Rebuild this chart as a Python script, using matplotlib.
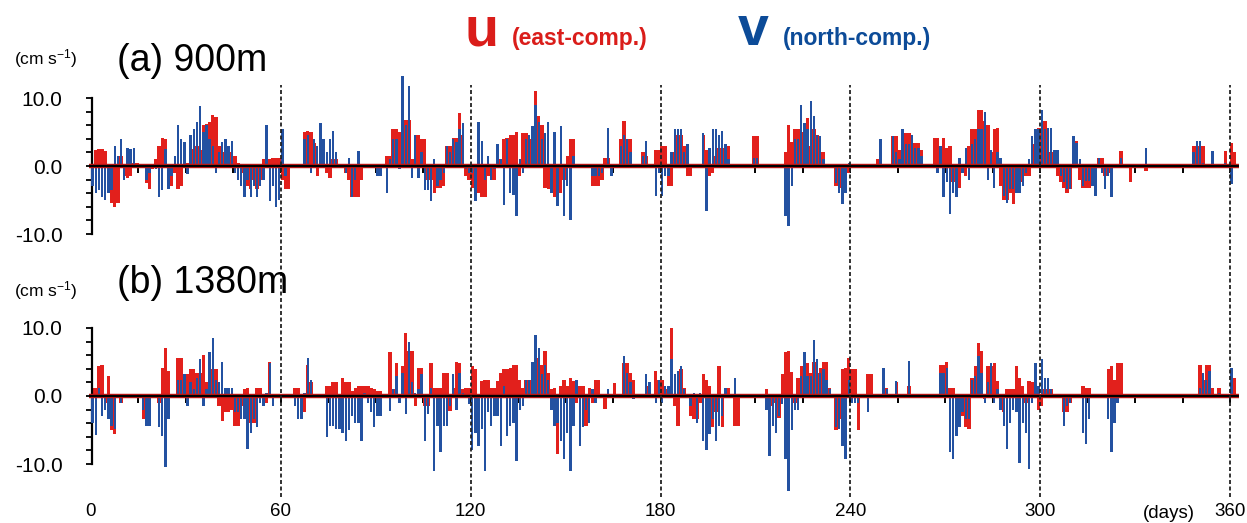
import numpy as np
import matplotlib
matplotlib.use("Agg")
import matplotlib.pyplot as plt

nan = float("nan")

# ---------------- data (cm/s), one value per day, day 0 .. 361 ----------------
u_900 = [
 -2, 2.4, 2.5, 2.5, 2.2, -2, -5.5, -6, -5.5, 1.5,
 -1.5, -1.7, -1.5, 0.5, 0.5, nan, nan, -2.5, -3.4, -0.5,
 1, 3, 4.1, 4, -2, -3, -1, -3.4, -3, 1,
 0.5, 1.5, 2.5, 3, 2.4, 6, 6.2, 6.5, 7.5, 7.2,
 3, 2, 2.5, 2, 2, 1.5, 0.5, -1, -1.5, -3,
 -3.4, -2, -3.4, -2, 1, 2.5, 1, 1.2, 1.2, 1.2,
 -2, -3.4, -3.4, nan, nan, nan, nan, 5, 5.1, 5,
 3.4, -1.5, 3, 2, -1, -1.7, 1, 1, nan, nan,
 -1, -2, -4.6, -4.6, -4.6, -2, nan, nan, nan, nan,
 0, 0, nan, 1.5, 1.5, 5.5, 5.5, 5, 6, 6.8,
 6.8, 1, 4.6, 4.6, 3.9, 3.9, -2, -2, -4, -3.2,
 -3.2, -2.9, 2.9, 2.9, 4.1, 4.1, 7.8, 4.5, -1.5, -2,
 -3.2, -4, -4, -4.5, -4.5, -1.5, -2, -2, 1, 1,
 3.9, 4.1, 4.6, 4.6, 5, -1.5, 4.9, 4.9, 3.9, 4.6,
 11, 7.3, 6, -3.2, -3.4, -3.5, -4.5, -4.4, -4, -2,
 1.5, 3.9, 3.9, nan, nan, nan, nan, nan, -3, -3,
 -3, -2, 1.2, 1.2, 0, nan, nan, 4, 6.6, 3.9,
 3.9, nan, nan, nan, 2, 1.5, nan, nan, 2.4, 2.4,
 3, 3, -2.9, -2.9, 2, 4.5, 4.5, 3, -1.5, -1.5,
 nan, nan, nan, 4.6, 2.4, -1.5, -1, 1.5, 2.7, 2.7,
 3, 3, nan, nan, nan, nan, nan, nan, nan, 4.4,
 4.4, nan, nan, nan, nan, nan, nan, nan, nan, 2,
 6, 3.5, 5.4, 5.4, 5, 2.4, 7, 3, 5.4, 4.5,
 2, 2, nan, nan, nan, -3, -3.2, -3.2, -1, -1,
 nan, nan, nan, nan, nan, nan, nan, nan, 1, 1,
 nan, nan, nan, 4.4, 4.4, 2.4, 3.9, 4.9, 4.9, 3.4,
 3.4, 3.4, 2.4, nan, nan, nan, 4.1, 4.1, 2.4, 4.1,
 2.7, 3, -2.4, -3.4, -3.2, -1, -1.5, 3, 5.4, 5.4,
 8.3, 8.3, 6.6, 6, 2, 5.4, 5.6, -3, -5, -5,
 -3.9, -5.6, -3, -3, -2.4, -1.5, -1.5, 3.2, 4.9, 5.6,
 5.6, 6.6, 2, 2, 2.4, -1.5, -2.4, -3.2, -3.9, -3.4,
 3.7, 3.7, -2, -3.2, -3.2, -3.2, -2.4, -2.4, 1.2, 1.2,
 -1.5, -1, -1, nan, nan, 2.2, nan, nan, -2.4, nan,
 nan, nan, nan, -0.7, nan, nan, nan, nan, nan, nan,
 nan, nan, nan, nan, nan, nan, nan, nan, 3, 3,
 3, 3, nan, nan, 1, nan, nan, nan, 2.2, nan,
 3.4, 2,
]

v_900 = [
 -3, -4, -3.5, -4.5, -5, -4, -3.5, 3, 1.5, 3.9,
 -2, 2.7, 2.5, 2.7, -0.3, nan, nan, -2, -1, 0,
 -0.5, -4.6, -3.5, 2.5, -3.4, -1.5, 1.5, 6.1, 4, 3.5,
 -1.2, 4.5, 5.5, 6.5, 8.8, 5, 6, 4, 3, -1,
 2, 3.5, 3.9, 3, 3.7, -1, -2, -3, -4.5, -2,
 -4.5, -3, -4.6, -3, -2, 6.1, -5.1, -3, -6.1, -5,
 5.4, -1.5, 0, nan, nan, nan, nan, 4, 4.5, -1,
 4, 3, 6.3, 3.9, 2, 3.9, 5.1, 2, nan, nan,
 -1, 1.2, -4.6, -2, 2.2, 0, nan, nan, nan, nan,
 -1.5, -1.5, nan, -3.9, 1, 4, 3.9, -0.5, 13.2, 6,
 11.7, -1.8, 4.6, -1.8, 2, -3.6, -3.6, -5.2, 1, -2.9,
 -2, -1, 2.9, 2, 3.9, 3.5, 5.4, 6.3, -0.5, -1,
 -1, -5.1, 6.5, 3.7, -2, 1.5, -2, -0.5, 3.2, 1,
 -5.7, 4, -3.9, -4.2, -7.4, 1, -1, 3.9, 4.6, 5.9,
 9, 6.5, 3.9, 4.9, 6.5, -4, 5, -5.9, 5.9, -7.3,
 -3, -8, 1.5, nan, nan, nan, nan, nan, -1.5, -1.5,
 -1.5, -1, 0, 5.6, -1.5, nan, nan, 3, 4.5, 3.9,
 2, nan, nan, nan, 1.5, 3.7, nan, nan, -4.4, -1,
 -4.4, -1.5, -1.5, 2, 5.4, 5.4, 5.4, 2, 3.2, 0,
 nan, nan, nan, 4.9, -6.6, 2.7, 5.4, 5.4, 4.5, 5.1,
 3.2, 1, nan, nan, nan, nan, nan, nan, nan, 1.2,
 1.2, nan, nan, nan, nan, nan, nan, nan, nan, -7.3,
 -8.8, -2.9, 3.9, 3.9, 9, 6.3, 5.4, 9.5, 7.3, 4.6,
 4.4, 1, nan, nan, nan, -2.5, -4, -5.6, -4, 0.5,
 nan, nan, nan, nan, nan, nan, nan, nan, 0, 3.9,
 nan, nan, nan, 4.4, 2, 1, 5.4, 3.2, 3.2, 4.6,
 2.7, 2.7, 1.5, nan, nan, nan, 0, -1, 2.9, -4.6,
 -2.4, -7, -3.9, -4.6, 1.2, -1, 2.7, -2, 3.2, 4,
 5.4, 5.4, 8, -2, 2.4, -3.2, 2, 1.2, -4.4, -5.4,
 -3.4, -3.4, -3.9, -3.9, -3, -1, 1, 4.4, 5.4, 5.4,
 8.3, 5.4, 5.6, 5.6, 2.4, 2.4, -1.5, -2.4, -3.4, -3.4,
 4.4, 3.4, 1, -2.9, -2.2, -2.2, -3, -4.4, 1.2, -1,
 -3.4, -1.5, -4.6, nan, nan, 1.2, nan, nan, 0, nan,
 nan, nan, nan, 2.7, nan, nan, nan, nan, nan, nan,
 nan, nan, nan, nan, nan, nan, nan, nan, 2, 3.7,
 3.7, 0.5, nan, nan, 2.2, nan, nan, nan, 0.5, nan,
 -2.7, 0,
]

u_1380 = [
 1.2, 1.2, 4.4, 4.6, -1, 2.9, -5, -5.6, nan, -1,
 nan, nan, nan, nan, nan, nan, -3.4, -2, -1, nan,
 nan, -1, 4.1, 7, 3.7, nan, nan, 5.6, 5.6, 3.2,
 3.2, 4, 4, 3.4, 3.4, 6, 2, 6, 4, 4,
 -1.5, -3.7, -2.4, -2.4, -2, -4.4, -4.4, -1.5, 1, 1.2,
 -3.9, -3.9, 1.2, 1.2, -1.5, -1, 5, 0, nan, nan,
 nan, nan, nan, nan, 1.2, 1.2, 0, -2.4, 4.6, 2,
 nan, nan, nan, nan, 1.5, 1.5, 2, 2, -3.9, 2.7,
 2, 2, 0.8, 1.2, 1.5, 1.5, 1.5, 1.5, 1.2, 1,
 0.8, 0.8, nan, nan, 6.4, 1, 4.9, -1, 4.4, 9.3,
 6.6, 6.6, -1.5, 4.1, 4.1, -1.5, -1.5, 4.9, 1.2, 1.2,
 1.2, 3.4, 3.4, -2.2, 1.2, 5, 4.9, 1, 1.2, 1.2,
 4.4, 4, -5, 2.2, 2.4, 2.4, 1.2, 1.2, 2.2, 3.4,
 3.9, 4, 4.1, 4.6, 4.6, 2.4, 1.2, 2.4, 2.4, 4.4,
 6.1, 5.6, 4.6, 6.6, 3.4, 1, 1.2, -8.5, 1.5, 2.4,
 1.5, 2.7, 2.2, -1, 1.5, 1.5, -4.4, 1.2, -1, 2.4,
 2.4, nan, -1.9, 0, nan, 1.9, nan, nan, 4.9, 4.9,
 3.4, 2.4, nan, nan, nan, 1.5, 1.2, nan, 3.7, 2.4,
 2.4, 1, 1, 10, -1.5, -4.4, 3.9, 1.2, nan, -3,
 -3.4, -3.4, -1, 3.2, 2.4, 1.5, -4.6, -2.4, 4.4, -4.6,
 1.2, 1.2, nan, -4.4, -4.4, nan, nan, nan, nan, nan,
 nan, nan, nan, 1, -2, -1.5, -1, -3.2, 3.2, 6.5,
 6.6, 3.5, -1, 2.7, 4.4, 4.9, 4.9, 3.4, 5, 3.4,
 4.1, 5, 5, 1.2, nan, -5, -3.4, 4, 4.1, 5.6,
 4, 4, -5, nan, nan, 3.2, 3.2, nan, nan, nan,
 1.2, 1.2, nan, nan, 2, nan, nan, nan, 1.5, nan,
 nan, nan, nan, nan, nan, nan, nan, nan, 4.6, 4.6,
 5, 1.2, 1.2, -3, -1, -3, -4.6, -4.9, 2.7, 4.4,
 7.8, 6.6, -0.5, 4.4, 4.4, 4.9, 2.2, -1.5, -2.4, 1,
 1, 1, 4.4, 2.7, 1.5, -1, 2.2, 2, 2.2, -2,
 -1.5, 1, 1, 1, nan, nan, nan, -2.4, -2.4, -1,
 nan, nan, nan, 1.5, 1.2, 1.2, nan, nan, nan, nan,
 nan, 3.9, 4.4, 2.4, 4.9, 4.9, nan, nan, nan, nan,
 nan, nan, nan, nan, nan, nan, nan, nan, nan, nan,
 nan, nan, nan, nan, nan, nan, nan, nan, nan, nan,
 4.6, 2.4, 4.6, 4.6, 1.2, nan, 1.2, nan, nan, nan,
 3.9, 2.7,
]

v_1380 = [
 -3.9, -5.7, 1.2, -3, -2, -3.4, -4.4, -4.9, nan, -1,
 nan, nan, nan, nan, nan, nan, -2, -4.4, -4.4, nan,
 nan, -4.6, -5.9, -10.5, -3.4, nan, nan, 2.4, 2.4, 3.2,
 -1.5, 2, 1, 2.7, 5.4, -1.5, 1, 6.5, 8.6, 2.4,
 2, 5, 1.2, 1.2, 1.2, -2.4, -2.4, -3.4, -3.4, -7.8,
 -5.4, -3.4, -4.6, -1, -1.5, 0.5, 4.9, -1.5, nan, nan,
 nan, nan, nan, nan, -1.5, -3.4, -3.4, 0.5, 5.6, 2.4,
 nan, nan, nan, nan, -6, -4.4, -4.4, -4.9, -4.9, -5.4,
 -6.6, -5, -2.9, -3.9, -3.9, -6.6, 0.5, -1, -2.4, -4.6,
 -2.9, -2.9, nan, nan, -2.2, 1, 2.9, -1, 3.4, -2.7,
 8, 2, 0.5, 1, 3.2, -6.6, -2.7, 1.2, -11, -4.4,
 -8.3, -4.4, -4.4, -1.5, 3.2, -2, 3.4, 0.5, 0, -1.2,
 -8, -5.4, -7.3, -4.9, -11, -2.4, -4.4, -2.9, -2.9, -7.3,
 1.5, -5.9, -4.4, -4, -9.5, -2, -1.5, 2.4, 2.4, 5,
 9, 7, 3.2, 4.5, 2.4, -2, -4.4, -3.9, -6.6, -9.3,
 -5.4, -11, -4.4, 2.4, -7.3, -4.6, -2, -3.9, 1, -1,
 0, nan, 0, 1, nan, 0, nan, nan, 5.9, 3.4,
 2, -0.5, nan, nan, nan, 3.2, 2, nan, -1, 2.4,
 -1, 1.5, 1.5, 5.4, 3.2, 3.7, 4.4, 1, nan, -1.5,
 0.5, -3.9, 0.5, -6.6, -8, -5.6, -3.4, -6.6, -4.4, -3,
 1.2, 0, nan, 2.7, 0, nan, nan, nan, nan, nan,
 nan, nan, nan, -2, -8.8, -4.4, -5.4, -3, -1.2, -9.3,
 -14, -5, -2, -2, 2.9, 6.4, 2.9, 2.9, 8.3, 5.4,
 3.4, 3.9, 2.4, 1, nan, -4.6, -4.9, -7.3, -9.3, 2.4,
 -1, -1, -1, nan, nan, -2.4, 0, nan, nan, nan,
 4.1, 1, nan, nan, 2.2, nan, nan, nan, 5.1, nan,
 nan, nan, nan, nan, nan, nan, nan, nan, 3.4, 3.4,
 4.1, -8.3, -9.3, -5.9, -4.6, -2.4, -3.4, -3.4, 2.4, 2.9,
 5.9, 3.4, -1, 2, 4.9, -1, 1, -2, -4.4, -7.8,
 -4, -2, -2.4, -9.8, -4, -5.4, -10.7, -1, 4.9, 1.5,
 5.4, 2.7, 2.7, 1, nan, nan, nan, -4.4, -1.5, -1,
 nan, nan, nan, -5.4, -7, -3.4, nan, nan, nan, nan,
 nan, -3.4, -8.3, -3.9, -1, 0, nan, nan, nan, nan,
 nan, nan, nan, nan, nan, nan, nan, nan, nan, nan,
 nan, nan, nan, nan, nan, nan, nan, nan, nan, nan,
 1.2, 3.4, 2.4, 3.7, 0, nan, 0.5, nan, nan, nan,
 4.1, 0,
]

day_ticks = [0, 60, 120, 180, 240, 300, 360]
day_labels = ["0", "60", "120", "180", "240", "300", "360"]
y_labels = ["-10.0", "0.0", "10.0"]
y_major = [-10, 0, 10]

N_DAYS = 362
RED = "#E2201C"
BLUE = "#2351A1"
FONT = ["Liberation Sans", "DejaVu Sans"]
plt.rcParams["font.family"] = FONT
plt.rcParams["mathtext.fontset"] = "custom"
plt.rcParams["mathtext.rm"] = "Liberation Sans"
plt.rcParams["mathtext.it"] = "Liberation Sans:italic"
plt.rcParams["mathtext.bf"] = "Liberation Sans:bold"


def fit(a):
    a = list(a) + [nan] * N_DAYS
    return np.array(a[:N_DAYS], dtype=float)


W, H = 1247, 523
fig = plt.figure(figsize=(W / 100, H / 100), dpi=100)

X0 = 91.0                      # pixel of day 0
PPD = (1230.0 - 91.0) / 360.0  # pixels per day
XMIN, XMAX = -0.6, 363.0
left = (X0 + XMIN * PPD) / W
width = (XMAX - XMIN) * PPD / W
PPU = 6.8                      # pixels per cm/s


def make_axes(y_zero_px, ylo, yhi):
    top_px = y_zero_px - yhi * PPU
    bot_px = y_zero_px - ylo * PPU
    ax = fig.add_axes([left, 1 - bot_px / H, width, (bot_px - top_px) / H])
    ax.set_xlim(XMIN, XMAX)
    ax.set_ylim(ylo, yhi)
    ax.patch.set_alpha(0)
    for s in ("top", "right"):
        ax.spines[s].set_visible(False)
    ax.spines["left"].set_position(("data", 0.4))
    ax.spines["left"].set_bounds(-10, 10)
    ax.spines["left"].set_linewidth(1.6)
    ax.spines["bottom"].set_position(("data", 0))
    ax.spines["bottom"].set_visible(False)
    ax.set_yticks(y_major)
    ax.set_yticklabels(y_labels)
    ax.set_yticks(np.arange(-10, 11, 2), minor=True)
    ax.tick_params(axis="y", which="both", direction="out", length=4.5,
                   width=1.3, labelsize=15, pad=17)
    ax.set_xticks(np.arange(15, 361, 15))
    ax.tick_params(axis="x", which="both", direction="out", length=5,
                   width=1.4, labelbottom=False, color="black")
    return ax


def draw_panel(ax, u, v):
    u = np.nan_to_num(fit(u))
    v = np.nan_to_num(fit(v))
    d = np.arange(N_DAYS) + 0.5
    ax.bar(d, u, width=1.05, color=RED, linewidth=0, zorder=2)
    ax.bar(d, v, width=0.75, color=BLUE, linewidth=0, zorder=3)
    ax.axhline(0, color="#C81A18", lw=3.2, zorder=4)
    ax.axhline(0, color="black", lw=1.6, zorder=5)


ax_a = make_axes(166.0, -12, 14)
draw_panel(ax_a, u_900, v_900)
ax_b = make_axes(396.0, -15, 12)
draw_panel(ax_b, u_1380, v_1380)

# overlay with dashed day markers and day labels
top_px, bot_px = 85.0, 497.0
ax_o = fig.add_axes([left, 1 - bot_px / H, width, (bot_px - top_px) / H])
ax_o.set_xlim(XMIN, XMAX)
ax_o.set_ylim(0, 1)
ax_o.axis("off")
ax_o.patch.set_alpha(0)
for d in day_ticks[1:]:
    ax_o.axvline(d, color="#222222", lw=1.3, ls=(0, (2.2, 1.4)), zorder=6)
for d, lab in zip(day_ticks, day_labels):
    fig.text((X0 + d * PPD) / W, 1 - 512 / H, lab, ha="center", va="center",
             fontsize=13.5)
fig.text(1169 / W, 1 - 513 / H, "(days)", ha="center", va="center", fontsize=13.5)

# panel titles and units
fig.text(117 / W, 1 - 61 / H, "(a) 900m", ha="left", va="center", fontsize=27)
fig.text(117 / W, 1 - 283 / H, "(b) 1380m", ha="left", va="center", fontsize=27)
fig.text(14 / W, 1 - 59 / H, "(cm s$^{-1}$)", ha="left", va="center", fontsize=12.5)
fig.text(14 / W, 1 - 291 / H, "(cm s$^{-1}$)", ha="left", va="center", fontsize=12.5)

# legend-like header
fig.text(482 / W, 1 - 45 / H, "u", color="#DA1D1A", fontsize=40, weight="bold",
         ha="center", va="baseline")
fig.text(512 / W, 1 - 45 / H, "(east-comp.)", color="#DA1D1A", fontsize=16.5,
         weight="bold", ha="left", va="baseline")
fig.text(753 / W, 1 - 45 / H, "v", color="#0C4B98", fontsize=40, weight="bold",
         ha="center", va="baseline")
fig.text(783 / W, 1 - 45 / H, "(north-comp.)", color="#0C4B98", fontsize=16.5,
         weight="bold", ha="left", va="baseline")

fig.savefig("out.png", dpi=100)
